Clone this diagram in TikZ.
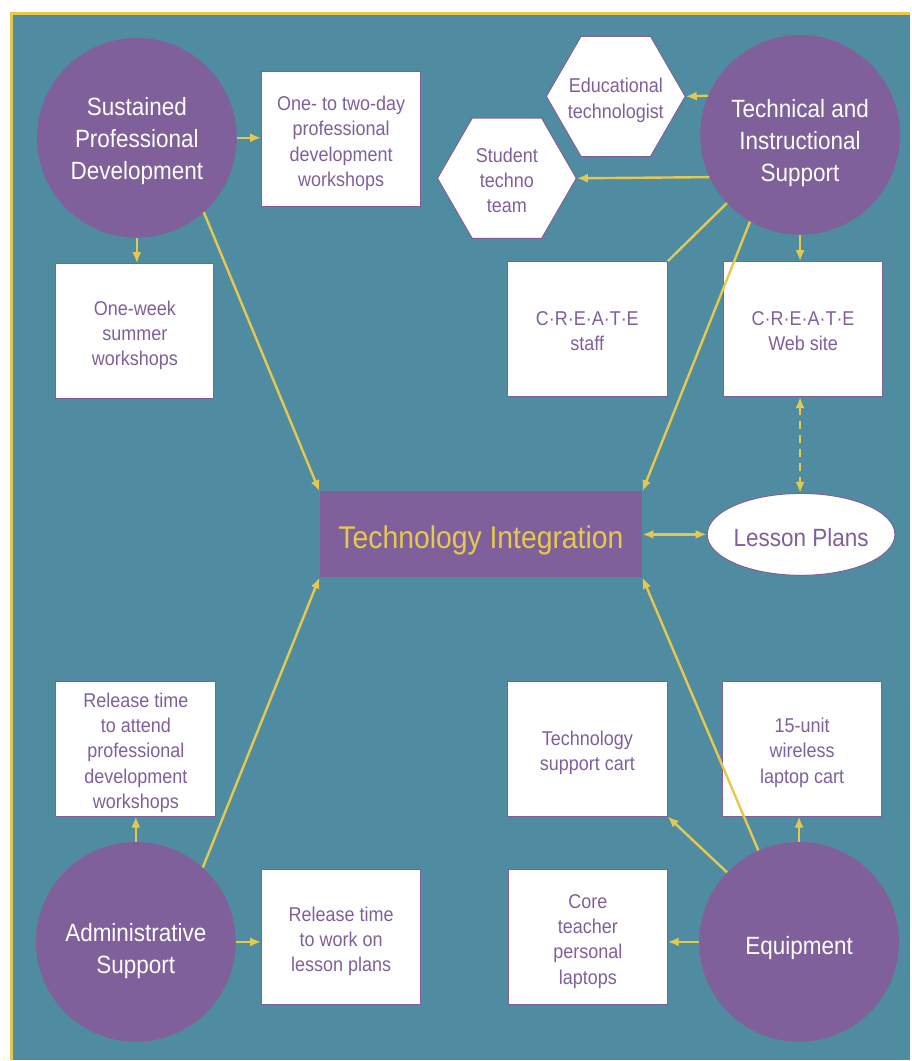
\documentclass[tikz,border=0pt]{standalone}
\usepackage{fontspec}
\setmainfont[FakeStretch=0.9]{Liberation Sans}
\usetikzlibrary{arrows.meta,shapes.geometric}

\definecolor{teal}{HTML}{4F8CA1}
\definecolor{plum}{HTML}{80609A}
\definecolor{gold}{HTML}{E6C84F}

\tikzset{
  % shapes (text is set as a centred label so it can be nudged on its own)
  hub/.style={circle, fill=plum, draw=none, minimum size=200pt, inner sep=0pt},
  infobox/.style={rectangle, fill=white, draw=plum, line width=1pt,
    minimum width=159pt, minimum height=135pt, inner sep=0pt},
  hexbox/.style={regular polygon, regular polygon sides=6, fill=white, draw=plum,
    line width=1pt, minimum size=139pt, inner sep=0pt},
  % texts
  hubtext/.style={text=white, align=center, inner sep=0pt,
    font=\fontsize{25}{32}\selectfont, yshift=-3pt},
  boxtext/.style={text=plum, align=center, inner sep=0pt,
    font=\fontsize{20}{25.3}\selectfont, yshift=-4pt},
  % connectors
  link/.style={draw=gold, line width=2.4pt},
  arr/.style={link, -{Latex[length=11pt,width=9pt]}},
  biarr/.style={link, {Latex[length=11pt,width=9pt]}-{Latex[length=11pt,width=9pt]}},
}

\begin{document}
\begin{tikzpicture}[x=1pt, y=-1pt]
  % page and framed panel
  \fill[white] (0,0) rectangle (911,1061);
  \fill[teal] (11,13) rectangle (911,1061);
  \draw[gold, line width=2.5pt] (11.5,1061) -- (11.5,13.5) -- (911,13.5);

  % main hubs
  \node[hub, label={[hubtext]center:Sustained\\Professional\\Development}] (spd) at (137,138) {};
  \node[hub, label={[hubtext, yshift=-5pt]center:Technical and\\Instructional\\Support}] (tis) at (801,135) {};
  \node[hub, label={[hubtext, yshift=-6pt]center:Administrative\\Support}] (adm) at (136,943) {};
  \node[hub, label={[hubtext, yshift=-3pt]center:Equipment}] (eq) at (800,943) {};

  % centre
  \node[rectangle, fill=plum, draw=none, minimum width=323pt, minimum height=86pt,
        inner sep=0pt,
        label={[text=gold, inner sep=0pt, font=\fontsize{31.5}{36}\selectfont, yshift=-6pt]center:Technology Integration}]
        (ti) at (481.5,535) {};
  \node[ellipse, fill=white, draw=plum, line width=1pt, minimum width=188pt,
        minimum height=82pt, inner sep=0pt,
        label={[text=plum, inner sep=0pt, font=\fontsize{25}{30}\selectfont, yshift=-3pt]center:Lesson Plans}]
        (lp) at (802,535) {};

  % professional development items
  \node[infobox, label={[boxtext]center:One- to two-day\\professional\\development\\workshops}] (pdw) at (341.5,139.5) {};
  \node[infobox, minimum width=158pt, label={[boxtext]center:One-week\\summer\\workshops}] (wk) at (135,331.5) {};

  % support items
  \node[hexbox, label={[boxtext, yshift=0pt]center:Educational\\technologist}] (edu) at (616.5,96.5) {};
  \node[hexbox, label={[boxtext, yshift=2pt]center:Student\\techno\\team}] (stu) at (507.5,178.5) {};
  \node[infobox, minimum width=160pt, label={[boxtext, yshift=2pt]center:C·R·E·A·T·E\\staff}] (staff) at (588,329.5) {};
  \node[infobox, minimum width=160pt, label={[boxtext, yshift=2pt]center:C·R·E·A·T·E\\Web site}] (web) at (804,329.5) {};

  % administrative items
  \node[infobox, minimum width=160pt, label={[boxtext]center:Release time\\to attend\\professional\\development\\workshops}] (rel1) at (136,749.5) {};
  \node[infobox, label={[boxtext]center:Release time\\to work on\\lesson plans}] (rel2) at (341.5,938.5) {};

  % equipment items
  \node[infobox, minimum width=160pt, label={[boxtext]center:Technology\\support cart}] (cart) at (588,749.5) {};
  \node[infobox, minimum width=160pt, label={[boxtext]center:15-unit\\wireless\\laptop cart}] (lap) at (803,749.5) {};
  \node[infobox, label={[boxtext]center:Core\\teacher\\personal\\laptops}] (core) at (588.5,938.5) {};

  % connectors: professional development
  \draw[arr] (spd.east) -- (spd.east -| pdw.west);
  \draw[arr] (spd.south) -- (spd.south |- wk.north);
  \draw[arr] (spd.312.6) -- (ti.north west);

  % connectors: technical and instructional support
  \draw[arr] (tis.157.7) -- (edu.east);
  \draw[arr] (tis.205.5) -- (stu.east);
  \draw[link] (tis.223) -- (staff.north east);
  \draw[arr] (tis.240.6) -- (ti.north east);
  \draw[arr] (tis.south) -- (tis.south |- web.north);
  \draw[biarr, dash pattern=on 8pt off 6pt] (web.south -| tis.south) -- (lp.north -| tis.south);
  \draw[biarr] (ti.east) -- (lp.west);

  % connectors: administrative support
  \draw[arr] (adm.north) -- (adm.north |- rel1.south);
  \draw[arr] (adm.east) -- (adm.east -| rel2.west);
  \draw[arr] (adm.48.2) -- (ti.south west);

  % connectors: equipment
  \draw[arr] (eq.west) -- (eq.west -| core.east);
  \draw[arr] (eq.136.6) -- (cart.south east);
  \draw[arr] (eq.north) -- (eq.north |- lap.south);
  \draw[arr] (eq.114) -- (ti.south east);
\end{tikzpicture}
\end{document}
